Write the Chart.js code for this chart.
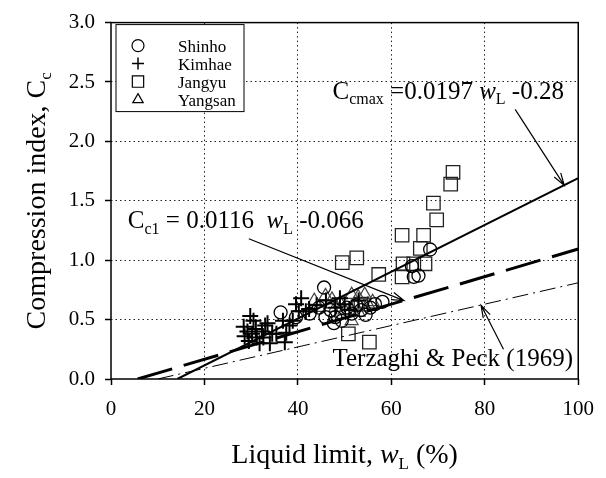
<!DOCTYPE html>
<html>
<head>
<meta charset="utf-8">
<script src="https://cdn.jsdelivr.net/npm/chart.js@4.4.0/dist/chart.umd.min.js"></script>
<style>
  html, body { margin: 0; padding: 0; background: #fff; }
</style>
</head>
<body>
<canvas id="ccChart" width="606" height="478"></canvas>
<script>
// measured points
const shinhoX = [36.3, 39.6, 42.5, 44.5, 45.6, 45.9, 47.0, 47.7, 48.0, 49.4, 50.5, 51.5, 52.5, 53.5, 54.5, 55.5, 56.5, 58.1, 64.4, 64.8, 65.8, 68.3];
const shinhoY = [0.56, 0.52, 0.55, 0.60, 0.77, 0.52, 0.58, 0.47, 0.52, 0.49, 0.60, 0.55, 0.62, 0.58, 0.54, 0.60, 0.63, 0.65, 0.95, 0.86, 0.87, 1.09];

const kimhaeX = [28.4, 28.6, 29.2, 29.8, 29.5, 30.2, 30.5, 31.0, 31.2, 31.8, 32.3, 32.6, 33.0, 33.5, 34.0, 34.5, 35.4, 36.8, 37.2, 37.5, 38.2, 38.9, 39.6, 40.2, 40.7, 41.7, 42.4, 44.0, 46.0, 48.0, 50.0, 51.0, 53.0, 49.0];
const kimhaeY = [0.44, 0.36, 0.40, 0.53, 0.32, 0.38, 0.49, 0.42, 0.35, 0.30, 0.40, 0.35, 0.45, 0.47, 0.30, 0.38, 0.38, 0.49, 0.31, 0.39, 0.45, 0.49, 0.63, 0.57, 0.68, 0.57, 0.59, 0.62, 0.66, 0.60, 0.63, 0.58, 0.66, 0.68];

const jangyuX = [49.5, 50.8, 52.6, 53.5, 55.3, 57.3, 62.3, 62.3, 62.5, 64.8, 66.2, 66.9, 67.2, 69.0, 69.7, 72.7, 73.2];
const jangyuY = [0.98, 0.38, 1.02, 0.63, 0.31, 0.88, 1.21, 0.86, 0.97, 0.97, 1.10, 1.21, 0.97, 1.48, 1.34, 1.64, 1.74];

const yangsanX = [43.5, 44.5, 45.9, 47.3, 48.0, 49.0, 50.0, 51.5, 51.5, 52.2, 52.9, 53.0, 54.3, 55.0, 56.0];
const yangsanY = [0.66, 0.60, 0.70, 0.67, 0.60, 0.64, 0.58, 0.71, 0.49, 0.62, 0.69, 0.56, 0.71, 0.63, 0.65];

// fitted lines (end points)
const ccmaxX = [14.2, 100];
const ccmaxY = [0, 1.69];
const cc1X = [5.7, 100];
const cc1Y = [0, 1.094];
const terzX = [10, 100];
const terzY = [0, 0.81];

const xTicks = [0, 20, 40, 60, 80, 100];
const yTicks = [0, 0.5, 1.0, 1.5, 2.0, 2.5, 3.0];
const seriesNames = ['Shinho', 'Kimhae', 'Jangyu', 'Yangsan'];

const FONT = 'Liberation Serif';

function pts(xs, ys) {
  return xs.map((x, i) => ({ x, y: ys[i] }));
}

const markerStyles = [
  { pointStyle: 'circle', radius: 6.5, width: 1.3, color: '#000' },
  { pointStyle: 'cross', radius: 8, width: 2, color: '#000' },
  { pointStyle: 'rect', radius: 9.5, width: 1.3, color: '#222' },
  { pointStyle: 'triangle', radius: 7.5, width: 1.2, color: '#444' }
];

function scatterSet(label, xs, ys, m) {
  return {
    type: 'scatter',
    label,
    data: pts(xs, ys),
    pointStyle: m.pointStyle,
    pointRadius: m.radius,
    pointBorderWidth: m.width,
    borderColor: m.color,
    backgroundColor: 'rgba(0,0,0,0)',
    order: 2
  };
}

function lineSet(xs, ys, width, dash) {
  return {
    type: 'line',
    data: pts(xs, ys),
    borderColor: '#000',
    borderWidth: width,
    borderDash: dash,
    pointRadius: 0,
    fill: false,
    order: 1
  };
}

// text with subscripts / italics, parts: [text, kind]
function richText(ctx, x, y, parts, size) {
  let cx = x;
  parts.forEach(([t, kind]) => {
    if (kind === 'sub') {
      ctx.font = `${Math.round(size * 0.62)}px "${FONT}"`;
      ctx.fillText(t, cx, y + size * 0.22);
    } else if (kind === 'i') {
      ctx.font = `italic ${size}px "${FONT}"`;
      ctx.fillText(t, cx, y);
    } else {
      ctx.font = `${size}px "${FONT}"`;
      ctx.fillText(t, cx, y);
    }
    cx += ctx.measureText(t).width;
  });
  return cx - x;
}

function measureRich(ctx, parts, size) {
  ctx.save();
  ctx.globalAlpha = 0;
  const w = richText(ctx, 0, 0, parts, size);
  ctx.restore();
  return w;
}

function arrow(ctx, x1, y1, x2, y2) {
  const a = Math.atan2(y2 - y1, x2 - x1);
  const len = 13;
  ctx.beginPath();
  ctx.moveTo(x1, y1);
  ctx.lineTo(x2, y2);
  ctx.moveTo(x2 - len * Math.cos(a - 0.3), y2 - len * Math.sin(a - 0.3));
  ctx.lineTo(x2, y2);
  ctx.lineTo(x2 - len * Math.cos(a + 0.3), y2 - len * Math.sin(a + 0.3));
  ctx.stroke();
}

const extras = {
  id: 'extras',
  afterDatasetsDraw(chart) {
    const ctx = chart.ctx;
    const xs = chart.scales.x, ys = chart.scales.y;
    const a = chart.chartArea;
    const px = v => xs.getPixelForValue(v);
    const py = v => ys.getPixelForValue(v);
    ctx.save();
    ctx.fillStyle = '#000';
    ctx.strokeStyle = '#000';
    ctx.textBaseline = 'alphabetic';

    // frame
    ctx.lineWidth = 1.5;
    ctx.strokeRect(a.left, a.top, a.right - a.left, a.bottom - a.top);

    // legend
    const lx = a.left + 5, ly = a.top + 2, lw = 128, lh = 87;
    ctx.fillStyle = '#fff';
    ctx.fillRect(lx, ly, lw, lh);
    ctx.lineWidth = 1;
    ctx.strokeRect(lx, ly, lw, lh);
    seriesNames.forEach((name, i) => {
      const yy = ly + 21 + i * 18;
      const m = markerStyles[i];
      ctx.fillStyle = 'rgba(0,0,0,0)';
      ctx.strokeStyle = '#000';
      ctx.lineWidth = m.pointStyle === 'cross' ? 1.5 : 1.2;
      Chart.helpers.drawPoint(ctx, {
        pointStyle: m.pointStyle,
        radius: m.pointStyle === 'rect' ? 8 : 6,
        borderWidth: ctx.lineWidth,
        rotation: 0
      }, lx + 22, yy);
      ctx.fillStyle = '#000';
      ctx.font = `17px "${FONT}"`;
      ctx.textAlign = 'left';
      ctx.fillText(name, lx + 62, yy + 6);
    });

    // annotations
    ctx.fillStyle = '#000';
    ctx.strokeStyle = '#000';
    ctx.lineWidth = 1.2;
    richText(ctx, px(47.4), py(2.36), [['C', 'n'], ['cmax', 'sub'], [' =0.0197 ', 'n'], ['w', 'i'], ['L', 'sub'], [' -0.28', 'n']], 25);
    arrow(ctx, px(86.5), py(2.27), px(97), py(1.63));

    richText(ctx, px(3.6), py(1.27), [['C', 'n'], ['c1', 'sub'], [' = 0.0116  ', 'n'], ['w', 'i'], ['L', 'sub'], [' -0.066', 'n']], 25);
    arrow(ctx, px(29.5), py(1.18), px(62.7), py(0.66));

    richText(ctx, px(47.4), py(0.108), [['Terzaghi & Peck (1969)', 'n']], 25);
    arrow(ctx, px(84), py(0.25), px(79.2), py(0.62));

    // axis titles
    const xt = [['Liquid limit, ', 'n'], ['w', 'i'], ['L', 'sub'], [' (%)', 'n']];
    const wx = measureRich(ctx, xt, 28);
    ctx.fillStyle = '#000';
    richText(ctx, (a.left + a.right) / 2 - wx / 2, 463, xt, 28);

    const yt = [['Compression index, C', 'n'], ['c', 'sub']];
    const wy = measureRich(ctx, yt, 28);
    ctx.save();
    ctx.translate(45, (a.top + a.bottom) / 2);
    ctx.rotate(-Math.PI / 2);
    ctx.fillStyle = '#000';
    richText(ctx, -wy / 2, 0, yt, 28);
    ctx.restore();

    ctx.restore();
  }
};

const gridColor = ctx => {
  const v = ctx.tick && ctx.tick.value;
  return (v === 0 || v === 3 || v === 100) ? 'rgba(0,0,0,0)' : '#222';
};

new Chart(document.getElementById('ccChart').getContext('2d'), {
  data: {
    datasets: [
      lineSet(ccmaxX, ccmaxY, 2, []),
      lineSet(cc1X, cc1Y, 3, [36, 12]),
      lineSet(terzX, terzY, 1, [16, 5, 2, 5]),
      scatterSet(seriesNames[0], shinhoX, shinhoY, markerStyles[0]),
      scatterSet(seriesNames[1], kimhaeX, kimhaeY, markerStyles[1]),
      scatterSet(seriesNames[2], jangyuX, jangyuY, markerStyles[2]),
      scatterSet(seriesNames[3], yangsanX, yangsanY, markerStyles[3])
    ]
  },
  options: {
    responsive: false,
    animation: false,
    layout: { padding: { left: 0, right: 18, top: 19, bottom: 0 } },
    plugins: { legend: { display: false }, tooltip: { enabled: false } },
    scales: {
      x: {
        type: 'linear',
        min: 0, max: 100,
        afterFit: s => { s.height = 99; },
        afterBuildTicks: s => { s.ticks = xTicks.map(v => ({ value: v })); },
        ticks: { color: '#000', font: { family: FONT, size: 21 }, padding: 12 },
        grid: { color: gridColor, lineWidth: 1, tickColor: '#000', tickLength: 6, tickWidth: 1.5 },
        border: { display: false, dash: [1.5, 3] }
      },
      y: {
        type: 'linear',
        min: 0, max: 3,
        afterFit: s => { s.width = 111; },
        afterBuildTicks: s => { s.ticks = yTicks.map(v => ({ value: v })); },
        ticks: { color: '#000', font: { family: FONT, size: 21 }, padding: 10, callback: v => v.toFixed(1) },
        grid: { color: gridColor, lineWidth: 1, tickColor: '#000', tickLength: 6, tickWidth: 1.5 },
        border: { display: false, dash: [1.5, 3] }
      }
    }
  },
  plugins: [extras]
});
</script>
</body>
</html>
